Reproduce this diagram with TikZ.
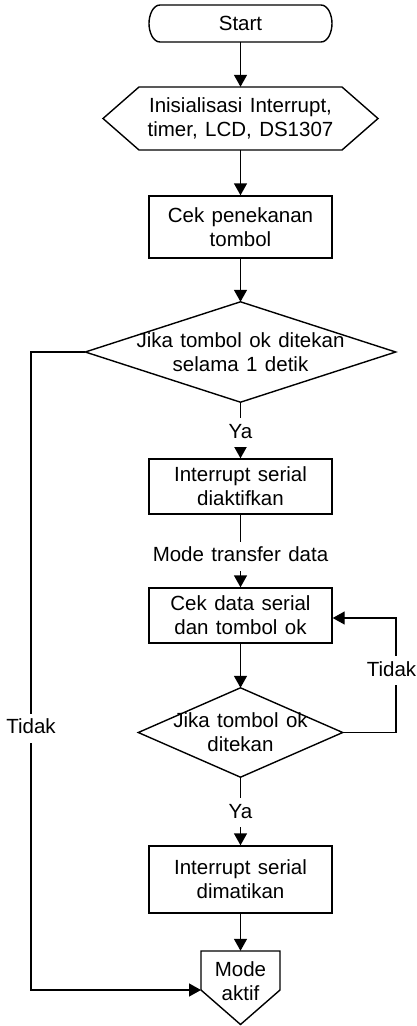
\documentclass[tikz,border=0pt]{standalone}
\usepackage{fontspec}
\setmainfont{Liberation Sans}[WordSpace=1.3]
\usetikzlibrary{arrows.meta}
\begin{document}
\begin{tikzpicture}[x=1pt,y=-1pt,
  every node/.style={font=\fontsize{20.5}{24}\selectfont, align=center, inner sep=0pt},
  line/.style={line width=1.4pt},
  arr/.style={line, -{Triangle[length=12pt,width=13pt]}},
  proc/.style={draw, line width=1.4pt, minimum width=183pt},
  lbl/.style={fill=white, inner xsep=1pt, inner ysep=5pt, text height=15pt, text depth=4pt}
]
\useasboundingbox (0,0) rectangle (417,1026);

% Start terminator
\node[minimum width=183pt, minimum height=37pt] (start) at (240.5,23.5) {Start};
\draw[line] (160,5) -- (321,5) .. controls (328,5) and (332,15) .. (332,23.5)
  .. controls (332,32) and (328,42) .. (321,42) -- (160,42)
  .. controls (153,42) and (149,32) .. (149,23.5)
  .. controls (149,15) and (153,5) .. (160,5) -- cycle;

% Initialisation (hexagon)
\node[minimum width=275pt, minimum height=63pt] (init) at (240.5,118.5) {Inisialisasi Interrupt,\\timer, LCD, DS1307};
\draw[line] (103,118.5) -- (139,87) -- (342,87) -- (378,118.5) -- (342,150) -- (139,150) -- cycle;

% Cek penekanan tombol
\node[proc, minimum height=62pt] (cek) at (240.5,227) {Cek penekanan\\tombol};

% Decision 1
\node[minimum width=310pt, minimum height=100pt] (d1) at (240.5,352) {Jika tombol ok ditekan\\selama 1 detik};
\draw[line] (d1.north) -- (d1.east) -- (d1.south) -- (d1.west) -- cycle;

% Interrupt serial diaktifkan
\node[proc, minimum height=55pt] (box2) at (240.5,486.5) {Interrupt serial\\diaktifkan};

% Cek data serial
\node[proc, minimum height=55pt] (box3) at (240.5,615.5) {Cek data serial\\dan tombol ok};

% Decision 2
\node[minimum width=204pt, minimum height=89pt] (d2) at (240.5,732.5) {Jika tombol ok\\ditekan};
\draw[line] (d2.north) -- (d2.east) -- (d2.south) -- (d2.west) -- cycle;

% Interrupt serial dimatikan
\node[proc, minimum height=67pt] (box4) at (240.5,879.5) {Interrupt serial\\dimatikan};

% Off-page connector
\node[minimum width=79pt, minimum height=60pt] (op) at (240.5,981) {Mode\\aktif};
\draw[line] (201,951) -- (280,951) -- (280,990) -- (240.5,1024.5) -- (201,990) -- cycle;

% coordinates for bends
\coordinate (r2) at (396,618);
\coordinate (l2) at (31,990);
\coordinate (opl) at (201,990);

% connectors
\draw[arr] (start) -- (init);
\draw[arr] (init) -- (cek);
\draw[arr] (cek) -- (d1);
\draw[arr] (d1) -- node[lbl, pos=0.54]{Ya} (box2);
\draw[arr] (box2) -- node[lbl, pos=0.57]{Mode transfer data} (box3);
\draw[arr] (box3) -- (d2);
\draw[arr] (d2.east) -| node[lbl, pos=0.77, xshift=-4.5pt]{Tidak} (r2) -- (box3.east |- r2);
\draw[arr] (d2) -- node[lbl, pos=0.52]{Ya} (box4);
\draw[arr] (box4) -- (op);
\draw[arr] (d1.west) -| node[lbl, pos=0.795]{Tidak} (l2) -- (opl);
\end{tikzpicture}
\end{document}
